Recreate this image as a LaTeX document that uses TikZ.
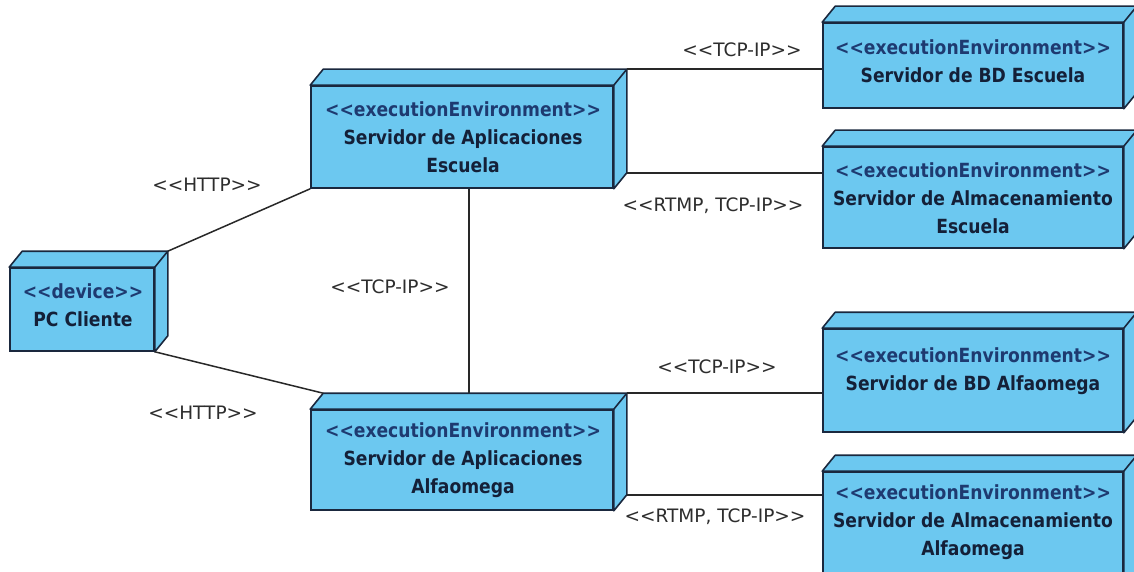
\documentclass[tikz,border=0pt]{standalone}
\usepackage{fontspec}
\setmainfont{DejaVu Sans}
\newfontfamily\nmfont{DejaVu Sans}[FakeStretch=0.88]
\usetikzlibrary{calc}
\definecolor{boxfill}{RGB}{108,200,240}
\definecolor{edge}{RGB}{26,40,62}
\definecolor{stcol}{RGB}{30,58,112}
\definecolor{nmcol}{RGB}{20,32,56}
\definecolor{lblcol}{RGB}{45,45,45}
\definecolor{wirecol}{RGB}{40,40,40}
\newcommand\cubefaces[1]{%
  \draw[face] (#1.north west) -- ($(#1.north west)+(13,-16)$) -- ($(#1.north east)+(13,-16)$)
     -- ($(#1.south east)+(13,-16)$) -- (#1.south east) -- (#1.north east) -- cycle;
  \draw[face,fill=none] (#1.north east) -- ($(#1.north east)+(13,-16)$);}
\newcommand\st[1]{\textcolor{stcol}{\nmfont\bfseries #1}}
\newcommand\nm[1]{\textcolor{nmcol}{\nmfont\bfseries #1}}
\begin{document}
\begin{tikzpicture}[x=1pt,y=-1pt,
  face/.style={draw=edge,fill=boxfill,line width=1.6pt,line join=round},
  box/.style={draw=edge,fill=boxfill,line width=1.6pt,inner sep=0pt},
  txt/.style={align=center,inner sep=0pt,font=\fontsize{19.5}{28}\selectfont},
  lbl/.style={inner sep=0pt,text=lblcol,font=\fontsize{18.5}{22}\selectfont},
  wire/.style={draw=wirecol,line width=1.5pt}]
\useasboundingbox (0,0) rectangle (1134,572);
\clip (0,0) rectangle (1134,572);
\fill[white] (0,0) rectangle (1134,572);

% nodes (front faces)
\node[box,minimum width=144pt,minimum height=83pt] (pc) at (82,309.5) {};
\node[box,minimum width=302pt,minimum height=102pt] (ae) at (462,137) {};
\node[box,minimum width=302pt,minimum height=100pt] (aa) at (462,460) {};
\node[box,minimum width=300pt,minimum height=85pt] (bde) at (973,65.5) {};
\node[box,minimum width=300pt,minimum height=101pt] (ase) at (973,197.5) {};
\node[box,minimum width=300pt,minimum height=103pt] (bda) at (973,380.5) {};
\node[box,minimum width=300pt,minimum height=128pt] (asa) at (973,536) {};
\foreach \n in {pc,ae,aa,bde,ase,bda,asa}{\cubefaces{\n}}

% texts
\node[txt] (tpc) at (83,305) {\st{<{}<device>{}>}\\\nm{PC Cliente}};
\node[txt] (tae) at (463,137) {\st{<{}<executionEnvironment>{}>}\\\nm{Servidor de Aplicaciones}\\\nm{Escuela}};
\node[txt] (taa) at (463,460) {\st{<{}<executionEnvironment>{}>}\\\nm{Servidor de Aplicaciones}\\\nm{Alfaomega}};
\node[txt] (tbde) at (973,61.5) {\st{<{}<executionEnvironment>{}>}\\\nm{Servidor de BD Escuela}};
\node[txt] (tase) at (973,198) {\st{<{}<executionEnvironment>{}>}\\\nm{Servidor de Almacenamiento}\\\nm{Escuela}};
\node[txt] (tbda) at (973,371) {\st{<{}<executionEnvironment>{}>}\\\nm{Servidor de BD Alfaomega}};
\node[txt] (tasa) at (973,522) {\st{<{}<executionEnvironment>{}>}\\\nm{Servidor de Almacenamiento}\\\nm{Alfaomega}};

% connector anchor points
\coordinate (pcb) at ($(pc.north east)+(13,-16)$);
\coordinate (aeTop) at ($(ae.north east)+(13,-16)$);
\coordinate (aeBot) at ($(ae.south east)+(13,-16)$);
\coordinate (aaTop) at ($(aa.north east)+(13,-16)$);
\coordinate (aaBot) at ($(aa.south east)+(13,-16)$);
\coordinate (aaNW) at ($(aa.north west)+(13,-16)$);
\coordinate (aeS) at ($(ae.south)+(7,0)$);
\coordinate (aaN) at ($(aa.north)+(7,-16)$);

% connectors
\draw[wire] (pcb) -- (ae.south west);
\draw[wire] (pc.south east) -- (aaNW);
\draw[wire] (aeS) -- (aaN);
\draw[wire] (aeTop) -- (aeTop -| bde.west);
\draw[wire] (aeBot) -- (aeBot -| ase.west);
\draw[wire] (aaTop) -- (aaTop -| bda.west);
\draw[wire] (aaBot) -- (aaBot -| asa.west);

% labels
\node[lbl] (l1) at (207,185) {<{}<HTTP>{}>};
\node[lbl] (l2) at (203,413) {<{}<HTTP>{}>};
\node[lbl] (l3) at (390,287) {<{}<TCP-IP>{}>};
\node[lbl] (l4) at (742,50) {<{}<TCP-IP>{}>};
\node[lbl] (l5) at (713,206) {<{}<RTMP, TCP-IP>{}>};
\node[lbl] (l6) at (717,367) {<{}<TCP-IP>{}>};
\node[lbl] (l7) at (715,517) {<{}<RTMP, TCP-IP>{}>};
\end{tikzpicture}
\end{document}
